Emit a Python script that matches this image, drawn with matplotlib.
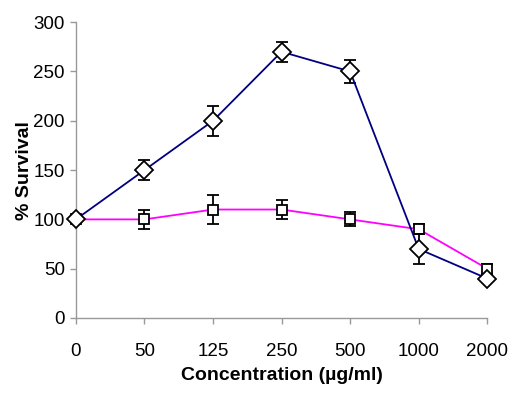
import numpy as np
import matplotlib
matplotlib.use("Agg")
import matplotlib.pyplot as plt

plt.rcParams['font.family'] = ['Liberation Sans', 'DejaVu Sans']

# data
conc_labels = ["0", "50", "125", "250", "500", "1000", "2000"]
diamond_vals = [100, 150, 200, 270, 250, 70, 40]
diamond_err = [3, 10, 15, 10, 12, 15, 4]
square_vals = [100, 100, 110, 110, 100, 90, 50]
square_err = [3, 10, 15, 10, 7, 5, 5]

x = np.arange(len(conc_labels))

fig = plt.figure(figsize=(5.2, 3.96), dpi=100)
ax = fig.add_axes([0.146, 0.197, 0.791, 0.747])

# magenta series with squares
sq = ax.errorbar(x, square_vals, yerr=square_err, color='#FF00FF', lw=1.3,
                 marker='s', ms=6.5, mfc='white', mec='black', mew=1.3,
                 ecolor='black', elinewidth=1.3, capsize=4.5, capthick=1.3, zorder=3)
# navy series with diamonds
di = ax.errorbar(x, diamond_vals, yerr=diamond_err, color='#000080', lw=1.3,
                 marker='D', ms=9.5, mfc='white', mec='black', mew=1.3,
                 ecolor='black', elinewidth=1.3, capsize=4.5, capthick=1.3, zorder=4)
# markers at the ends sit on the axes edges, keep them whole
for cont in (sq, di):
    for art in cont.lines:
        if art is None:
            continue
        if isinstance(art, tuple):
            for a in art:
                a.set_clip_on(False)
        else:
            art.set_clip_on(False)
    for coll in cont[2]:
        coll.set_clip_on(False)

ax.set_xlim(0, len(conc_labels) - 1)
ax.set_ylim(0, 300)
ax.set_yticks(np.arange(0, 301, 50))
ax.set_xticks(x)
ax.set_xticklabels(conc_labels)

for side in ['top', 'right']:
    ax.spines[side].set_visible(False)
for side in ['left', 'bottom']:
    ax.spines[side].set_color('#999999')
    ax.spines[side].set_linewidth(1.0)
ax.tick_params(axis='both', colors='#999999', labelcolor='black',
               labelsize=13.5, length=4, width=1.0, direction='out')
ax.tick_params(axis='x', pad=14)
ax.tick_params(axis='y', pad=4)

ax.set_xlabel("Concentration (µg/ml)", fontsize=14, fontweight='bold', labelpad=5)
ax.set_ylabel("% Survival", fontsize=14, fontweight='bold', labelpad=0)

fig.savefig("out.png", dpi=100)
